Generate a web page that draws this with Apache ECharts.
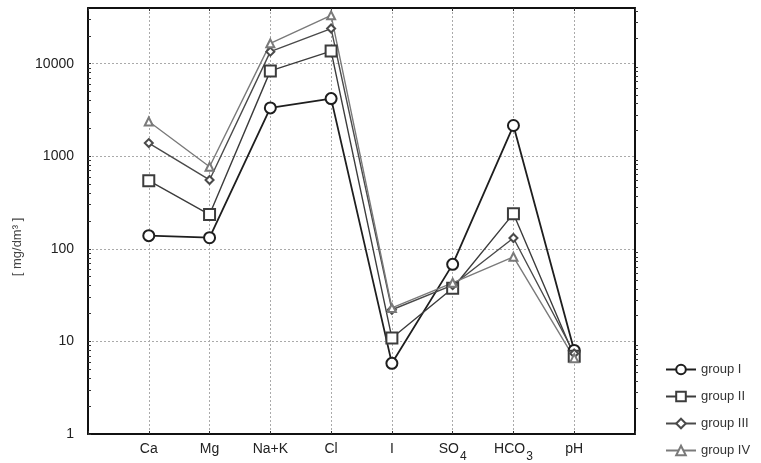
<!DOCTYPE html>
<html>
<head>
<meta charset="utf-8">
<script src="https://cdn.jsdelivr.net/npm/echarts@6/dist/echarts.min.js"></script>
<style>
  html, body { margin: 0; padding: 0; background: #fff; }
  #main { width: 761px; height: 463px; }
</style>
</head>
<body>
<div id="main"></div>
<script>
// categories padded with blanks at both ends so the points sit one step inside the frame
var categories = ['', 'Ca', 'Mg', 'Na+K', 'Cl', 'I', 'SO4', 'HCO3', 'pH', ''];
var groupI   = [null, 139, 132, 3330, 4200, 5.8, 68, 2150, 8.0, null];
var groupII  = [null, 545, 235, 8370, 13700, 10.9, 37.6, 240, 6.9, null];
var groupIII = [null, 1390, 555, 13500, 24000, 22, 40.5, 131, 7.4, null];
var groupIV  = [null, 2380, 770, 16600, 33300, 23, 43, 82, 6.6, null];
var yTickValues = [1, 10, 100, 1000, 10000];
var yMinorValues = [2, 3, 4, 5, 6, 7, 8, 9, 20, 30, 40, 50, 60, 70, 80, 90,
    200, 300, 400, 500, 600, 700, 800, 900, 2000, 3000, 4000, 5000, 6000, 7000, 8000, 9000, 20000, 30000];

var font = 'Liberation Sans, Arial, sans-serif';

function makeSeries(name, data, symbol, color, width) {
    return {
        name: name,
        type: 'line',
        data: data,
        symbol: symbol,
        symbolSize: symbol === 'emptyCircle' ? 11 : (symbol === 'emptyRect' ? 11 : 8),
        connectNulls: false,
        animation: false,
        lineStyle: { color: color, width: width },
        itemStyle: { color: color, borderColor: color, borderWidth: 1.3 }
    };
}

var chart = echarts.init(document.getElementById('main'));
var option = {
    backgroundColor: '#fff',
    textStyle: { fontFamily: font },
    grid: { left: 88, right: 126, top: 8, bottom: 26 },
    legend: {
        orient: 'vertical',
        left: 660,
        top: 358,
        itemGap: 14,
        itemWidth: 30,
        itemHeight: 12,
        textStyle: { fontSize: 13, color: '#333', fontFamily: font },
        data: ['group I', 'group II', 'group III', 'group IV']
    },
    xAxis: [
        {
            type: 'category',
            data: categories,
            boundaryGap: false,
            axisLine: { lineStyle: { color: '#111', width: 2 } },
            axisTick: { inside: true, length: 3, interval: 0, lineStyle: { color: '#333' } },
            splitLine: { show: true, interval: 0, lineStyle: { color: '#aaa', type: [2, 2], width: 1 } },
            axisLabel: {
                interval: 0,
                margin: 8,
                fontSize: 14,
                color: '#222',
                formatter: function (v) {
                    if (v === 'SO4') return '{b|SO}{s|4}';
                    if (v === 'HCO3') return '{b|HCO}{s|3}';
                    return '{b|' + v + '}';
                },
                rich: {
                    b: { fontSize: 14, color: '#222', verticalAlign: 'top', fontFamily: font },
                    s: { fontSize: 12, color: '#222', padding: [9, 0, 0, 1], verticalAlign: 'top', fontFamily: font }
                }
            }
        },
        {
            type: 'category',
            data: categories,
            boundaryGap: false,
            position: 'top',
            axisLine: { lineStyle: { color: '#111', width: 2 } },
            axisTick: { inside: true, length: 3, interval: 0, lineStyle: { color: '#333' } },
            axisLabel: { show: false },
            splitLine: { show: false }
        }
    ],
    yAxis: [
        {
            type: 'log',
            logBase: 10,
            min: 1,
            max: 40000,
            name: '[ mg/dm\u00b3 ]',
            nameLocation: 'middle',
            nameGap: 62,
            nameTextStyle: { fontSize: 13, color: '#444', fontFamily: font, padding: [0, 0, 0, -52] },
            axisLine: { show: true, lineStyle: { color: '#111', width: 2 } },
            axisTick: { show: true, inside: true, length: 3, customValues: yTickValues, lineStyle: { color: '#333' } },
            axisLabel: {
                fontSize: 14,
                color: '#222',
                margin: 14,
                customValues: yTickValues,
                formatter: function (v) { return String(v); }
            },
            splitLine: { show: true, lineStyle: { color: '#aaa', type: [2, 2], width: 1 } }
        },
        {
            // minor log ticks on the left frame only
            type: 'log',
            logBase: 10,
            min: 1,
            max: 40000,
            position: 'left',
            offset: 0,
            axisLine: { show: false },
            axisTick: { show: true, inside: true, length: 3, customValues: yMinorValues, lineStyle: { color: '#333' } },
            axisLabel: { show: false },
            splitLine: { show: false }
        },
        {
            type: 'log',
            logBase: 10,
            min: 1,
            max: 40000,
            position: 'right',
            offset: 0,
            axisLine: { show: true, lineStyle: { color: '#111', width: 2 } },
            axisTick: { show: false },
            minorTick: { show: true, splitNumber: 10, length: 3, lineStyle: { color: '#333' } },
            axisLabel: { show: false },
            splitLine: { show: false }
        }
    ],
    series: [
        makeSeries('group I', groupI, 'emptyCircle', '#1e1e1e', 1.8),
        makeSeries('group II', groupII, 'emptyRect', '#3c3c3c', 1.4),
        makeSeries('group III', groupIII, 'emptyDiamond', '#4a4a4a', 1.4),
        makeSeries('group IV', groupIV, 'emptyTriangle', '#7a7a7a', 1.4)
    ]
};
chart.setOption(option);
</script>
</body>
</html>
